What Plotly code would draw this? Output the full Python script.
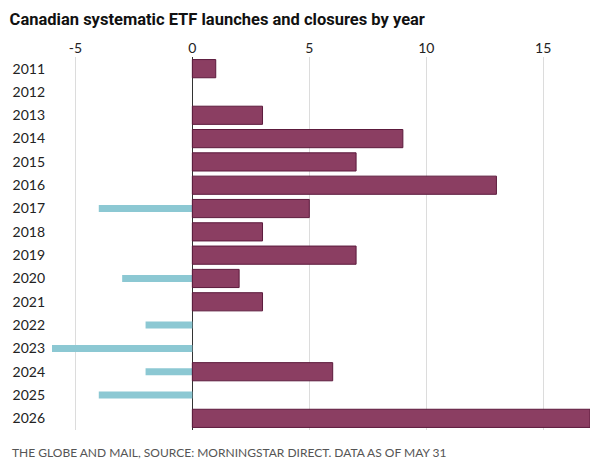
import plotly.graph_objects as go

anos = ["2011", "2012", "2013", "2014", "2015", "2016", "2017", "2018",
        "2019", "2020", "2021", "2022", "2023", "2024", "2025", "2026"]
lancamentos = [1, 0, 3, 9, 7, 13, 5, 3, 7, 2, 3, 0, 0, 6, 0, 17]
fechamentos = [0, 0, 0, 0, 0, 0, -4, 0, 0, -3, 0, -2, -6, -2, -4, 0]
ticks_x = [-5, 0, 5, 10, 15]
ticks_txt = ["-5", "0", "5", "10", "15"]

# anos sem valor nao devem desenhar barra (senao aparece o contorno)
lanc_y = [a for a, v in zip(anos, lancamentos) if v != 0]
lanc_x = [v for v in lancamentos if v != 0]
fech_y = [a for a, v in zip(anos, fechamentos) if v != 0]
fech_x = [v for v in fechamentos if v != 0]

fig = go.Figure()

# fechamentos (barras finas azuis)
fig.add_trace(go.Bar(
    y=fech_y, x=fech_x, orientation="h", width=0.3,
    marker=dict(color="#8cc8d3", line=dict(width=0)),
    name="Closures", hoverinfo="x+y",
))

# lançamentos (barras grossas)
fig.add_trace(go.Bar(
    y=lanc_y, x=lanc_x, orientation="h", width=0.78,
    marker=dict(color="#8b3e62", line=dict(color="#5c1a3c", width=1)),
    name="Launches", hoverinfo="x+y",
))

fig.update_layout(
    width=600, height=471,
    barmode="overlay",
    showlegend=False,
    plot_bgcolor="white",
    paper_bgcolor="white",
    margin=dict(l=52, r=10, t=57, b=41),
    font=dict(family="Lato, Noto Sans, sans-serif", color="#222", size=14),
    title=dict(
        text="<b>Canadian systematic ETF launches and closures by year</b>",
        x=0.016, xanchor="left", y=0.96, yanchor="middle",
        font=dict(family="Roboto, sans-serif", size=16.5, color="#111"),
    ),
    xaxis=dict(
        side="top", range=[-6, 17], tickvals=ticks_x, ticktext=ticks_txt,
        showgrid=True, gridcolor="#dcdcdc", gridwidth=1,
        zeroline=True, zerolinecolor="#333", zerolinewidth=1,
        showline=False, ticks="", tickfont=dict(size=14, color="#222"),
        automargin=False,
    ),
    yaxis=dict(
        type="category", categoryorder="array", categoryarray=anos,
        tickvals=anos, range=[15.5, -0.5],
        showgrid=False, zeroline=False, automargin=False,
        ticks="", ticklabelstandoff=6, tickfont=dict(size=14, color="#222"),
    ),
    annotations=[dict(
        text="THE GLOBE AND MAIL, SOURCE: MORNINGSTAR DIRECT. DATA AS OF MAY 31",
        xref="paper", yref="paper", x=-0.078, y=-0.06, xanchor="left", yanchor="middle",
        showarrow=False, font=dict(size=12, color="#555"),
    )],
)

# tira a margem padrao do body para a figura ficar em (0, 0)
fig.write_html("out.html", config={"displayModeBar": False},
               post_script="document.body.style.margin='0';")
